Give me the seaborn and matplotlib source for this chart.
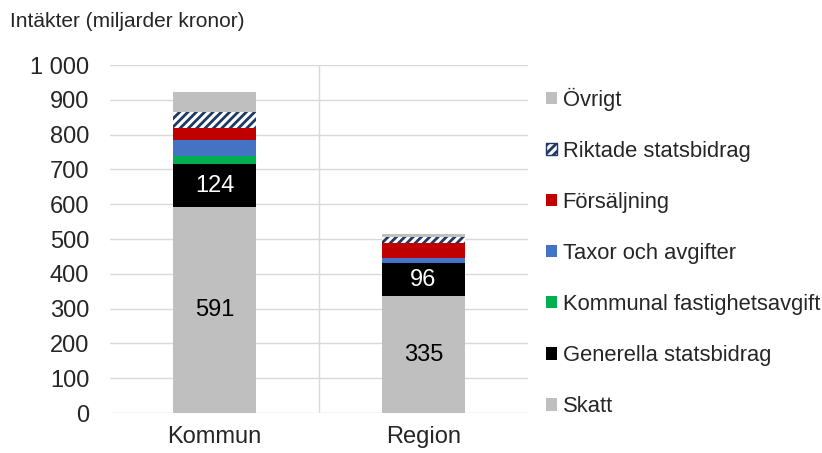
import pandas as pd
import numpy as np
import seaborn as sns
import matplotlib.pyplot as plt
from matplotlib.patches import Patch

sns.set_style("white")
plt.rcParams['font.family'] = ['Liberation Sans', 'DejaVu Sans']
plt.rcParams['hatch.linewidth'] = 2.0

# Income per category (billion SEK)
categories = ['Kommun', 'Region']
series = ['Skatt', 'Generella statsbidrag', 'Kommunal fastighetsavgift',
          'Taxor och avgifter', 'Försäljning', 'Riktade statsbidrag', 'Övrigt']
skatt = [591, 335]
generella = [124, 96]
fastighet = [24, 0]
taxor = [47, 15]
forsaljning = [34, 42]
riktade = [45, 19]
ovrigt = [57, 8]

values = [skatt, generella, fastighet, taxor, forsaljning, riktade, ovrigt]
colors = ['#bfbfbf', '#000000', '#00b050', '#4472c4', '#c00000', '#ffffff', '#bfbfbf']

df = pd.DataFrame({'kategori': categories})
for name, vals in zip(series, values):
    df[name] = vals

fig = plt.figure(figsize=(8.22, 4.53), dpi=100)
ax = fig.add_axes([0.1338, 0.0883, 0.5085, 0.768])

bottom = np.zeros(len(categories))
for name, col in zip(series, colors):
    if name == 'Riktade statsbidrag':
        kw = dict(hatch='////', edgecolor='#1f3864', linewidth=0)
    else:
        kw = dict(edgecolor='none')
    sns.barplot(data=df, x='kategori', y=name, color=col, saturation=1,
                width=0.4, bottom=bottom, ax=ax, **kw)
    bottom += df[name].values

# data labels for the two biggest parts
for i in range(len(categories)):
    ax.text(i, skatt[i] / 2, str(skatt[i]), ha='center', va='center', fontsize=17, color='black')
    ax.text(i, skatt[i] + generella[i] / 2, str(generella[i]), ha='center', va='center',
            fontsize=17, color='white')

ax.set_xlim(-0.5, 1.5)
ax.set_ylim(0, 1000)
ax.set_yticks(range(0, 1001, 100))
ax.set_yticklabels([f'{v:,}'.replace(',', ' ') for v in range(0, 1001, 100)])
ax.yaxis.grid(True, color='#d9d9d9', linewidth=1)
ax.set_axisbelow(True)
ax.axvline(0.5, color='#d9d9d9', linewidth=1, zorder=0)
for s in ax.spines.values():
    s.set_visible(False)
ax.tick_params(axis='y', labelsize=17, length=0, pad=15)
ax.tick_params(axis='x', labelsize=17, length=0, pad=9)
ax.set_xlabel('')
ax.set_ylabel('')

fig.text(0.012, 0.953, 'Intäkter (miljarder kronor)', fontsize=15, va='center', ha='left')

handles = []
for name, col in zip(series, colors):
    if name == 'Riktade statsbidrag':
        handles.append(Patch(facecolor='white', edgecolor='#1f3864', hatch='////', linewidth=1))
    else:
        handles.append(Patch(facecolor=col, edgecolor='none'))
fig.legend(handles[::-1], series[::-1], loc='upper left', bbox_to_anchor=(0.653, 0.826),
           frameon=False, fontsize=15.8, handlelength=0.5, handleheight=0.5,
           handletextpad=0.28, labelspacing=1.37, borderaxespad=0)

fig.savefig('out.png', dpi=100)
